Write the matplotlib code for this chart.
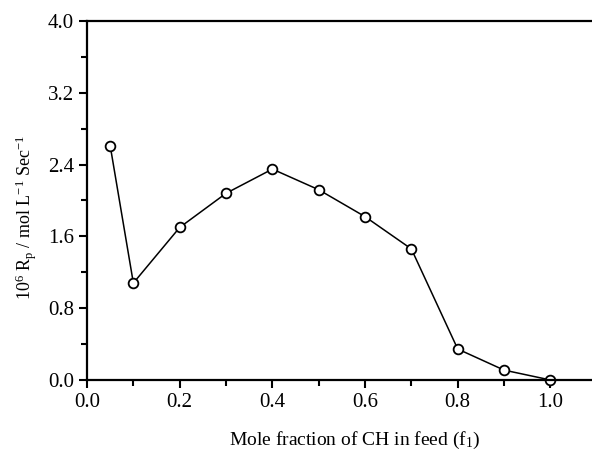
import numpy as np
import matplotlib.pyplot as plt
from matplotlib.ticker import MultipleLocator

plt.rcParams['font.family'] = ['Liberation Serif', 'DejaVu Serif']
plt.rcParams['mathtext.default'] = 'regular'

# feed composition and polymerisation rate
f1 = [0.05, 0.1, 0.2, 0.3, 0.4, 0.5, 0.6, 0.7, 0.8, 0.9, 1.0]
rp = [2.61, 1.08, 1.70, 2.08, 2.35, 2.12, 1.82, 1.46, 0.345, 0.11, 0.0]

fig = plt.figure(figsize=(5.92, 4.5), dpi=100)
ax = fig.add_axes([0.147, 0.1556, 0.861, 0.7977])

ax.plot(f1, rp, 'k-', lw=1.1, marker='o', ms=7, mfc='white', mec='black', mew=1.3, clip_on=False)

ax.set_xlim(0, 1.1)
ax.set_ylim(0, 4.0)
ax.xaxis.set_major_locator(MultipleLocator(0.2))
ax.xaxis.set_minor_locator(MultipleLocator(0.1))
ax.yaxis.set_major_locator(MultipleLocator(0.8))
ax.yaxis.set_minor_locator(MultipleLocator(0.4))
ax.xaxis.set_major_formatter(plt.FormatStrFormatter('%.1f'))
ax.yaxis.set_major_formatter(plt.FormatStrFormatter('%.1f'))

for s in ax.spines.values():
    s.set_linewidth(1.6)
ax.tick_params(which='both', direction='out', width=1.5, labelsize=15, top=False, right=False)
ax.tick_params(which='major', length=6)
ax.tick_params(which='minor', length=4)

ax.set_xlabel('Mole fraction of CH in feed (f$_1$)', fontsize=14)
ax.set_ylabel('10$^6$ R$_p$ / mol L$^{-1}$ Sec$^{-1}$', fontsize=13)
ax.xaxis.set_label_coords(0.525, -0.139)
ax.yaxis.set_label_coords(-0.095, 0.454)

plt.savefig('out.png', dpi=100)
